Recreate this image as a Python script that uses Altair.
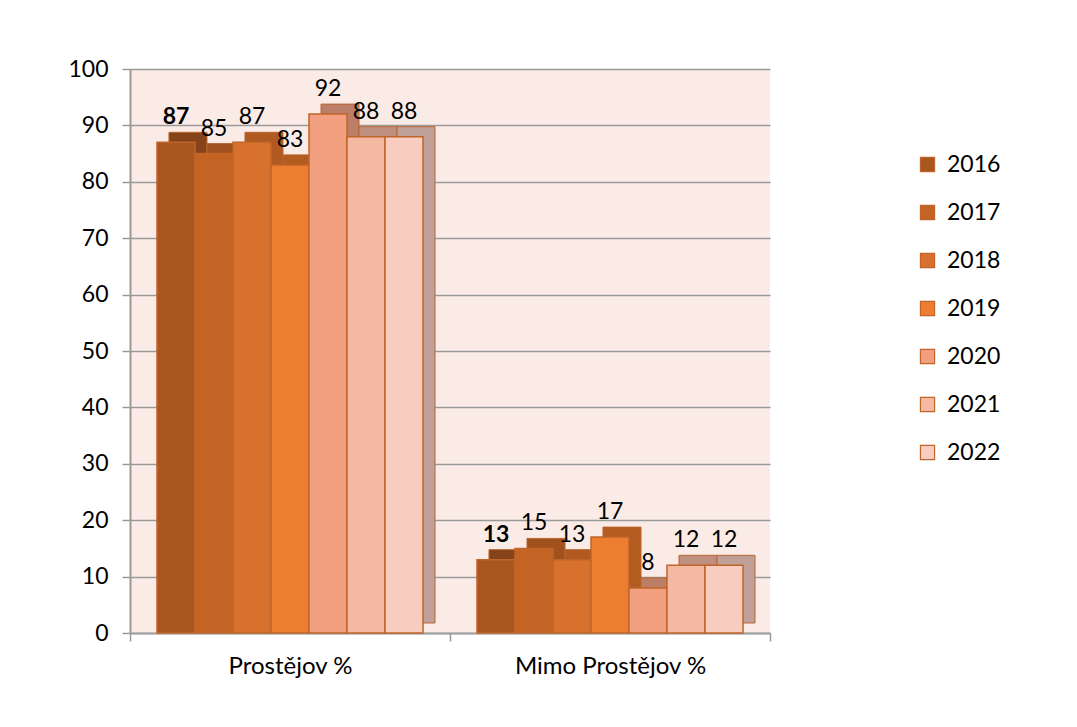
import altair as alt
import pandas as pd

categories = ["Prostějov %", "Mimo Prostějov %"]
years = ["2016", "2017", "2018", "2019", "2020", "2021", "2022"]
prostejov = [87, 85, 87, 83, 92, 88, 88]
mimo = [13, 15, 13, 17, 8, 12, 12]

front_colors = ["#A9561F", "#C46424", "#D8712D", "#ED7D31", "#F19F7F", "#F5B8A3", "#F8CCBF"]
side_colors = ["#86431A", "#A0511E", "#B05A22", "#B45B1F", "#BD7E67", "#BF8F80", "#BFA098"]

rows = []
for cat, vals in zip(categories, [prostejov, mimo]):
    for y, v in zip(years, vals):
        rows.append({"cat": cat, "year": y, "value": v})
df = pd.DataFrame(rows)

FONT = "Lato"

x_enc = alt.X("cat:N", sort=categories, title=None,
              scale=alt.Scale(domain=categories, paddingInner=0, paddingOuter=0),
              axis=alt.Axis(labelAngle=0, labelFontSize=24, labelFont=FONT, labelColor="#000000",
                            labelLimit=400,
                            tickBand="extent", tickSize=8, tickColor="#9A9A9A", tickWidth=1.5,
                            domainColor="#A0A0A0", domainWidth=2, labelPadding=13, grid=False))


def xo(shift=0):
    return alt.XOffset("year:N", sort=years,
                       scale=alt.Scale(type="band", domain=years, paddingInner=0, paddingOuter=0.71,
                                       range=[shift, 320 + shift]))


xo_text = xo(0)

y_enc = alt.Y("value:Q", title=None,
              scale=alt.Scale(domain=[0, 100], nice=False),
              axis=alt.Axis(values=list(range(0, 101, 10)), labelFontSize=23, labelFont=FONT,
                            labelColor="#000000", tickSize=8, tickColor="#9A9A9A", tickWidth=1.5,
                            domainColor="#A09890", domainWidth=2, labelPadding=14,
                            gridColor="#9A9A9A", gridWidth=1.5))

base = alt.Chart(df)

side = base.mark_bar(yOffset=-10, stroke="#B8652E", strokeWidth=1).encode(
    x=x_enc, xOffset=xo(12), y=y_enc,
    color=alt.Color("year:N", sort=years, scale=alt.Scale(domain=years, range=side_colors), legend=None),
)

bars = base.mark_bar(stroke="#C0652A", strokeWidth=1.5).encode(
    x=x_enc, xOffset=xo(0), y=y_enc,
    color=alt.Color("year:N", sort=years, scale=alt.Scale(domain=years, range=front_colors),
                    legend=alt.Legend(title=None, orient="none", legendX=786, legendY=84,
                                      symbolType="square", symbolSize=200,
                                      symbolStrokeColor="#C0652A", symbolStrokeWidth=1.2,
                                      labelFontSize=23, labelFont=FONT, labelColor="#000000",
                                      rowPadding=24, labelOffset=8)),
)

labels_bold = base.transform_filter(alt.datum.year == "2016").mark_text(
    fontSize=23, font=FONT, fontWeight="bold", baseline="alphabetic", dy=-18, color="#000000"
).encode(x=x_enc, xOffset=xo_text, y=y_enc, text="value:Q")

labels = base.transform_filter(alt.datum.year != "2016").mark_text(
    fontSize=23, font=FONT, baseline="alphabetic", dy=-18, color="#000000"
).encode(x=x_enc, xOffset=xo_text, y=y_enc, text="value:Q")

chart = alt.layer(side, bars, labels_bold, labels).resolve_scale(
    color="independent", xOffset="independent"
).properties(
    width=640, height=564,
    autosize=alt.AutoSizeParams(type="none"),
    padding={"left": 122, "top": 61, "right": 290, "bottom": 80},
    background="#FFFFFF",
).configure_view(fill="#FBEBE6", stroke=None)

chart.save("out.html", embed_options={"renderer": "svg", "actions": False})
